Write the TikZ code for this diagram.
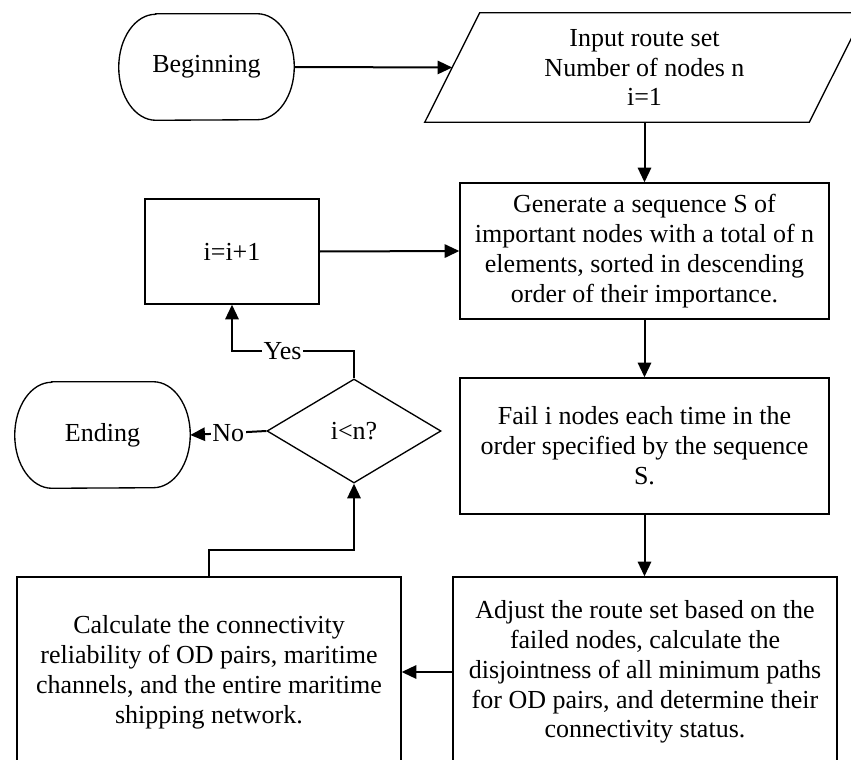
\documentclass[tikz,border=0pt]{standalone}
\usepackage{fontspec}
\setmainfont{Liberation Serif}
\usetikzlibrary{arrows.meta,shapes.geometric}
\newcommand\mainsize{\fontsize{19.5}{22.4}\selectfont}
\begin{document}
\begin{tikzpicture}[x=0.75pt,y=-0.75pt,
  outline/.style={line width=1pt},
  box/.style={draw, line width=1pt, align=center, inner sep=0pt, font=\mainsize},
  term/.style={align=center, inner sep=0pt, font=\mainsize, minimum width=131.25pt, minimum height=79.5pt},
  conn/.style={line width=1.5pt},
  arr/.style={line width=1.5pt, -{Triangle[length=11pt,width=10pt]}},
  lbl/.style={fill=white, inner sep=1pt, font=\mainsize}]
\useasboundingbox (0,0) rectangle (851,760);
\clip (0,0) rectangle (851,760);
% nodes
\node[term] (beg) at (206.5,67) {Beginning};
\node[term] (endn) at (102.5,435) {Ending};
\node[align=center, inner sep=0pt, font=\mainsize, minimum width=288pt, minimum height=81.75pt] (inp) at (644.5,67.5) {Input route set\\Number of nodes n\\i=1};
\node[box, minimum width=276.75pt, minimum height=102pt] (gen) at (644.5,251) {Generate a sequence S of\\important nodes with a total of n\\elements, sorted in descending\\order of their importance.};
\node[box, minimum width=130.5pt, minimum height=78.75pt] (inc) at (232,251.5) {i=i+1};
\node[draw, line width=1pt, shape=diamond, inner sep=0pt, aspect=1.67, minimum width=130.5pt, minimum height=78pt, font=\mainsize] (dec) at (354,431) {i<n?};
\node[box, minimum width=276.75pt, minimum height=102pt] (fail) at (644.5,446) {Fail i nodes each time in the\\order specified by the sequence\\S.};
\node[box, minimum width=288pt, minimum height=142.5pt] (adj) at (645,672) {Adjust the route set based on the\\failed nodes, calculate the\\disjointness of all minimum paths\\for OD pairs, and determine their\\connectivity status.};
\node[box, minimum width=288pt, minimum height=142.5pt] (calc) at (209,672) {Calculate the connectivity\\reliability of OD pairs, maritime\\channels, and the entire maritime\\shipping network.};
% outlines of terminals and parallelogram
\foreach \n in {beg,endn}{
  \draw[outline] ([xshift=27.75pt]\n.north west) -- ([xshift=-27.75pt]\n.north east)
    arc[start angle=90,end angle=-90,x radius=27.75pt,y radius=39.75pt]
    -- ([xshift=27.75pt]\n.south west)
    arc[start angle=270,end angle=90,x radius=27.75pt,y radius=39.75pt] -- cycle;
}
\draw[outline] ([xshift=-20.625pt]inp.south west) -- ([xshift=20.625pt]inp.north west)
  -- ([xshift=20.625pt]inp.north east) -- ([xshift=-20.625pt]inp.south east) -- cycle;
% connectors
\draw[arr] (beg.east) -- (inp.west);
\draw[arr] (inp.south) -- (gen.north);
\draw[arr] (inc.east) -- (gen.west);
\draw[arr] (gen.south) -- (fail.north);
\draw[arr] (fail.south) -- (fail.south |- adj.north);
\draw[arr] (adj.west) -- (calc.east);
\draw[arr] (calc.north) -- ++(0,-26) -| (dec.south);
\draw[arr] (dec.north) -- ++(0,-27) coordinate (yc) -- node[lbl, pos=0.586] {Yes} (yc -| inc.south) -- (inc.south);
\draw[arr] (dec.west) -- node[lbl] {No} (endn.east);
\end{tikzpicture}
\end{document}
